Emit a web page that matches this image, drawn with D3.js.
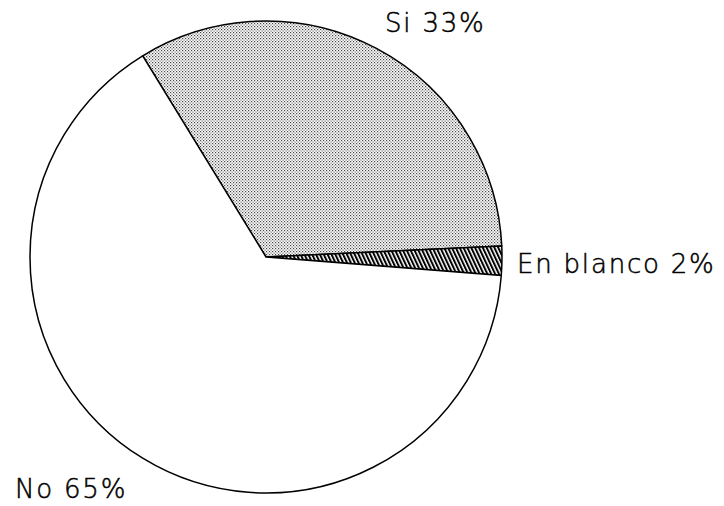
<!DOCTYPE html>
<html><head><meta charset="utf-8">
<script src="https://cdn.jsdelivr.net/npm/d3@7"></script>
<style>body{margin:0;background:#fff;} svg{display:block;}</style>
</head><body>
<svg id="chart" width="724" height="506"></svg>
<script>
const categories = ["Si", "En blanco", "No"];
const values = [33, 2, 65];
const labels = ["Si 33%", "En blanco 2%", "No 65%"];

const svg = d3.select("#chart");
const defs = svg.append("defs");
// stipple pattern
const dots = defs.append("pattern").attr("id","dots").attr("patternUnits","userSpaceOnUse")
  .attr("width",3).attr("height",3);
dots.append("rect").attr("width",3).attr("height",3).attr("fill","#fff");
dots.append("rect").attr("x",0).attr("y",0).attr("width",1.2).attr("height",1.2).attr("fill","#444");
dots.append("rect").attr("x",1.5).attr("y",1.5).attr("width",1.2).attr("height",1.2).attr("fill","#666");
// hatch pattern
const hatch = defs.append("pattern").attr("id","hatch").attr("patternUnits","userSpaceOnUse")
  .attr("width",3.5).attr("height",4).attr("patternTransform","rotate(-25)");
hatch.append("rect").attr("width",3.5).attr("height",4).attr("fill","#fff");
hatch.append("line").attr("x1",1).attr("y1",0).attr("x2",1).attr("y2",4).attr("stroke","#000").attr("stroke-width",2);

const fills = d3.scaleOrdinal().domain(categories).range(["url(#dots)","url(#hatch)","#fff"]);

const cx = 266, cy = 257, r = 236;
const startDeg = -31.5;
const pie = d3.pie().sort(null).value(d => d.v)
  .startAngle(startDeg*Math.PI/180).endAngle((startDeg+360)*Math.PI/180);
const data = categories.map((c,i)=>({c, v: values[i], label: labels[i]}));
const arcs = pie(data);
const arc = d3.arc().innerRadius(0).outerRadius(r);

const g = svg.append("g").attr("transform",`translate(${cx},${cy})`);
g.selectAll("path").data(arcs).join("path")
  .attr("d", arc)
  .attr("fill", d => fills(d.data.c))
  .attr("stroke","#000").attr("stroke-width",1.5).attr("stroke-linejoin","round");

const labelPos = {"Si":[385,32,"start"], "En blanco":[517,273,"start"], "No":[15,498,"start"]};
svg.selectAll("text.lbl").data(data).join("text")
  .attr("class","lbl")
  .attr("x", d => labelPos[d.c][0]).attr("y", d => labelPos[d.c][1])
  .attr("text-anchor", d => labelPos[d.c][2])
  .attr("font-family","DejaVu Sans").attr("font-weight",300)
  .attr("font-size",26).attr("letter-spacing",1.8).attr("fill","#000")
  .attr("stroke","#000").attr("stroke-width",0.5)
  .text(d => d.label);
</script>
</body></html>
